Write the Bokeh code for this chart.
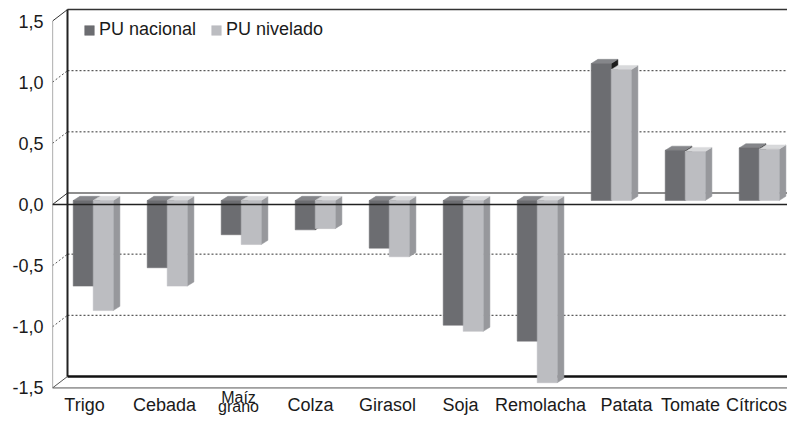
from bokeh.plotting import figure
from bokeh.models import (Range1d, ColumnDataSource, FixedTicker,
                          CustomJSTickFormatter, Legend, LegendItem)
from bokeh.core.properties import value
from bokeh.embed import file_html
from bokeh.resources import INLINE

# ---------------- data ----------------
categories = ["Trigo", "Cebada", "Maíz\ngrano", "Colza", "Girasol",
              "Soja", "Remolacha", "Patata", "Tomate", "Cítricos"]
pu_nacional = [-0.70, -0.55, -0.28, -0.24, -0.39, -1.02, -1.15, 1.12, 0.41, 0.43]
pu_nivelado = [-0.90, -0.70, -0.36, -0.23, -0.46, -1.07, -1.49, 1.07, 0.40, 0.42]
series_names = ["PU nacional", "PU nivelado"]
y_ticks = [-1.5, -1.0, -0.5, 0.0, 0.5, 1.0, 1.5]

# ---------------- layout / style ----------------
W, H = 787, 415
LEFT = 52                    # frame left (front axis)
PX_X = 74.0                  # pixels per category
PX_Y = 122.3                 # pixels per value unit
CX0 = 92.7                   # pixel x of first category centre
ZERO_PX = 204                # pixel y of front-plane zero
X0, X1 = (LEFT - CX0) / PX_X, (W - CX0) / PX_X
Y0, Y1 = (ZERO_PX - H) / PX_Y, ZERO_PX / PX_Y
WALL_DX, WALL_DY = 15 / PX_X, 11.5 / PX_Y
BAR_W = 20 / PX_X
BAR_DX, BAR_DY = 6.7 / PX_X, 4.2 / PX_Y
BAR_BASE = 4 / PX_Y
YMIN, YMAX = y_ticks[0], y_ticks[-1]
XL = X0                      # front-left edge
XB = XL + WALL_DX            # back-left edge
XR_BACK = X1 + 0.5           # back wall runs off the right edge
XFR = (792 - CX0) / PX_X     # front-right end
label_nudge_px = [-8.7, -2.7, -2.7, -4.7, -1.7, -2.7, 3.3, 15.3, 5.3, -2.7]
LABEL_TOP_PX = 394           # single-line labels
MULTI_TOP_PX = 388           # two-line label (smaller font to fit)
FONT = "Liberation Sans"
TXT = "#1a1a1a"

p = figure(width=W, height=H, x_range=Range1d(X0, X1), y_range=Range1d(Y0, Y1),
           x_axis_location=None, output_backend="svg", toolbar_location=None,
           min_border=0, min_border_left=LEFT, outline_line_color=None,
           background_fill_color="white", border_fill_color="white")
p.grid.visible = False

# y axis (front)
ax = p.yaxis[0]
ax.ticker = FixedTicker(ticks=y_ticks)
ax.formatter = CustomJSTickFormatter(code="return tick.toFixed(1).replace('.', ',');")
ax.axis_line_color = None
ax.major_tick_line_color = None
ax.minor_tick_line_color = None
ax.major_tick_out = 0
ax.major_tick_in = 0
ax.major_label_standoff = 9
ax.major_label_text_font = FONT
ax.major_label_text_font_size = "18px"
ax.major_label_text_color = TXT

# ---------------- walls ----------------
grid_vals = [t for t in y_ticks if t not in (0.0, YMIN, YMAX)]
p.segment(x0=[XB] * len(grid_vals), y0=[v + WALL_DY for v in grid_vals],
          x1=[XR_BACK] * len(grid_vals), y1=[v + WALL_DY for v in grid_vals],
          line_color="#333333", line_width=1, line_dash="2 2")
p.segment(x0=[XL] * len(grid_vals), y0=grid_vals,
          x1=[XB] * len(grid_vals), y1=[v + WALL_DY for v in grid_vals],
          line_color="#555555", line_width=1, line_dash="2 2")
# back zero line
p.segment(x0=[XB], y0=[WALL_DY], x1=[XR_BACK], y1=[WALL_DY],
          line_color="#8e8e8e", line_width=2)
# left wall zero / top diagonals
p.segment(x0=[XL, XL], y0=[0, YMAX], x1=[XB, XB], y1=[WALL_DY, YMAX + WALL_DY],
          line_color="#333333", line_width=1)
# floor diagonals
p.segment(x0=[XL, XFR], y0=[YMIN, YMIN], x1=[XB, XFR + WALL_DX], y1=[YMIN + WALL_DY, YMIN + WALL_DY],
          line_color="#555555", line_width=1)
# back top edge
p.segment(x0=[XB], y0=[YMAX + WALL_DY], x1=[XR_BACK], y1=[YMAX + WALL_DY],
          line_color="#333333", line_width=1.5)
# back left edge
p.segment(x0=[XB], y0=[YMIN + WALL_DY], x1=[XB], y1=[YMAX + WALL_DY],
          line_color="#222222", line_width=2)
# front axis line
p.segment(x0=[XL], y0=[YMIN], x1=[XL], y1=[YMAX], line_color="#777777", line_width=1.2)
# back floor
p.segment(x0=[XB], y0=[YMIN + WALL_DY], x1=[XR_BACK], y1=[YMIN + WALL_DY],
          line_color="#111111", line_width=2.5)
# front floor edge
p.segment(x0=[XL], y0=[YMIN], x1=[XFR], y1=[YMIN], line_color="#555555", line_width=1)

# ---------------- bars ----------------
def faces(vals, left):
    fx, fy, tx, ty, sx, sy = [], [], [], [], [], []
    for i, v in enumerate(vals):
        x0 = i + left
        x1 = x0 + BAR_W
        lo = BAR_BASE + min(v, 0)
        hi = BAR_BASE + max(v, 0)
        fx.append([x0, x1, x1, x0]); fy.append([lo, lo, hi, hi])
        tx.append([x0, x1, x1 + BAR_DX, x0 + BAR_DX]); ty.append([hi, hi, hi + BAR_DY, hi + BAR_DY])
        sx.append([x1, x1 + BAR_DX, x1 + BAR_DX, x1]); sy.append([lo, lo + BAR_DY, hi + BAR_DY, hi])
    return fx, fy, tx, ty, sx, sy

styles = [("#6c6d71", "#85868a", "#1c1c1c"), ("#bcbdc1", "#d8d9db", "#97989c")]
front_renderers = []
for vals, left, (cf, ct, cs) in zip([pu_nacional, pu_nivelado], [-BAR_W, 0.0], styles):
    fx, fy, tx, ty, sx, sy = faces(vals, left)
    p.patches(xs=sx, ys=sy, fill_color=cs, line_color=cs, line_width=0.5)
    p.patches(xs=tx, ys=ty, fill_color=ct, line_color=ct, line_width=0.5)
    r = p.patches(xs=fx, ys=fy, fill_color=cf, line_color=cf, line_width=0.5)
    front_renderers.append(r)

# front zero line over bars
p.segment(x0=[XL], y0=[0], x1=[XFR], y1=[0], line_color="#222222", line_width=1.3)

# ---------------- category labels ----------------
multi = ["\n" in c for c in categories]
lab = ColumnDataSource(dict(
    x=[i + n / PX_X for i, n in enumerate(label_nudge_px)],
    y=[(ZERO_PX - (MULTI_TOP_PX if m else LABEL_TOP_PX)) / PX_Y for m in multi],
    fs=["16px" if m else "18px" for m in multi],
    text=categories))
p.text(x="x", y="y", text="text", source=lab, text_align="center", text_baseline="top",
       text_font=value(FONT), text_font_size="fs", text_line_height=0.5625, text_color=TXT)

# ---------------- legend ----------------
legend = Legend(items=[LegendItem(label=series_names[0], renderers=[front_renderers[0]]),
                       LegendItem(label=series_names[1], renderers=[front_renderers[1]])],
                orientation="horizontal", location=(83 - LEFT, H - 40),
                glyph_width=12, glyph_height=12, label_standoff=4, spacing=14,
                padding=0, margin=0, border_line_color=None, background_fill_alpha=0,
                label_text_font=FONT, label_text_font_size="18px", label_height=12,
                label_text_color=TXT)
p.add_layout(legend)

open("out.html", "w").write(file_html(p, INLINE))
